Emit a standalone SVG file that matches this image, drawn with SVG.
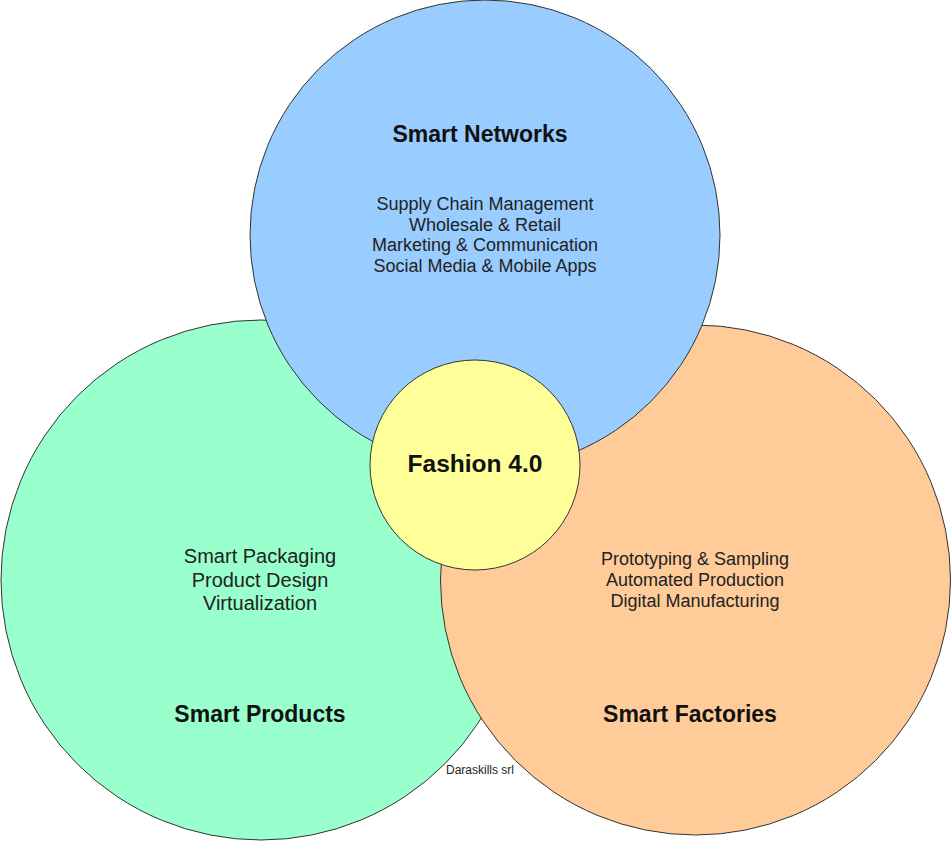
<svg xmlns="http://www.w3.org/2000/svg" width="951" height="841" viewBox="0 0 951 841">
<style>
  .c { stroke: #333333; stroke-width: 1; }
  text { font-family: "Liberation Sans", Arial, sans-serif; text-anchor: middle; fill: #222222; }
  .t { font-weight: bold; fill: #111111; }
</style>
<rect width="951" height="841" fill="#ffffff"/>
<g id="smart-products">
  <circle class="c" cx="261" cy="580" r="260" fill="#99FFCC"/>
  <text x="260" y="563" font-size="20">Smart Packaging</text>
  <text x="260" y="587" font-size="20">Product Design</text>
  <text x="260" y="610" font-size="20">Virtualization</text>
  <text class="t" x="260" y="722" font-size="23">Smart Products</text>
</g>
<g id="smart-factories">
  <circle class="c" cx="695.5" cy="580" r="255" fill="#FFCC99"/>
  <text x="695" y="565" font-size="18">Prototyping &amp; Sampling</text>
  <text x="695" y="586" font-size="18">Automated Production</text>
  <text x="695" y="607" font-size="18">Digital Manufacturing</text>
  <text class="t" x="690" y="722" font-size="23">Smart Factories</text>
</g>
<g id="smart-networks">
  <circle class="c" cx="485" cy="235" r="235" fill="#99CCFF"/>
  <text class="t" x="480" y="142" font-size="23">Smart Networks</text>
  <text x="485" y="210" font-size="18">Supply Chain Management</text>
  <text x="485" y="231" font-size="18">Wholesale &amp; Retail</text>
  <text x="485" y="251" font-size="18">Marketing &amp; Communication</text>
  <text x="485" y="272" font-size="18">Social Media &amp; Mobile Apps</text>
</g>
<g id="fashion">
  <circle class="c" cx="475" cy="465" r="105" fill="#FFFF99"/>
  <text class="t" x="475" y="472" font-size="24.5">Fashion 4.0</text>
</g>
<g id="credit">
  <text x="480" y="774" font-size="12">Daraskills srl</text>
</g>
<g id="connectors"></g>
</svg>
